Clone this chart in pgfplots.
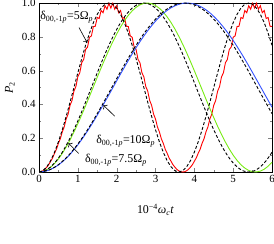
\documentclass[border=0pt]{standalone}
\usepackage{fontspec}
\setmainfont{Liberation Serif}
\usepackage{pgfplots}
\pgfplotsset{compat=1.18}
\usetikzlibrary{arrows.meta}
\definecolor{cred}{RGB}{255,0,0}
\definecolor{cgreen}{RGB}{120,235,20}
\definecolor{cblue}{RGB}{50,80,255}
\begin{document}
\begin{tikzpicture}
\useasboundingbox (-39bp,-72bp) rectangle (235bp,172bp);
\begin{axis}[
  at={(0,0)}, anchor=south west, scale only axis,
  width=233bp, height=169bp,
  xmin=0, xmax=6, ymin=0, ymax=1,
  xtick={0,1,2,3,4,5,6}, ytick={0,0.2,0.4,0.6,0.8,1},
  minor x tick num=1, minor y tick num=1,
  tick align=inside, major tick length=4bp, minor tick length=2bp,
  /pgf/number format/assume math mode=true,
  ticklabel style={font=\fontsize{11}{12}\selectfont},
  yticklabel style={/pgf/number format/.cd,fixed,fixed zerofill,precision=1},
  xlabel={10\textsuperscript{−4}\textit{ω}\textsubscript{\textit{c}}\textit{t}},
  label style={font=\fontsize{12}{13}\selectfont},
  xlabel style={at={(axis description cs:0.5,-0.225)}, anchor=center},
  every axis plot/.append style={line width=0.9bp},
]
% red, delta = 5 Omega_p (with ripple)
\addplot[cred, no marks] coordinates {
(0,0) (0.05,0.0017) (0.10,0.0072) (0.15,0.0156) (0.20,0.0286) (0.25,0.0431) (0.30,0.0635) (0.35,0.0831)
(0.40,0.1110) (0.45,0.1349) (0.50,0.1698) (0.55,0.1967) (0.60,0.2378) (0.65,0.2667) (0.70,0.3136) (0.75,0.3430)
(0.80,0.3947) (0.85,0.4234) (0.90,0.4788) (0.95,0.5056) (1.00,0.5635) (1.05,0.5871) (1.10,0.6464) (1.15,0.6658)
(1.20,0.7251) (1.25,0.7393) (1.30,0.7972) (1.35,0.8053) (1.40,0.8609) (1.45,0.8623) (1.50,0.9143) (1.55,0.9084)
(1.60,0.9556) (1.65,0.9423) (1.70,0.9839) (1.75,0.9630) (1.80,0.9982) (1.85,0.9700) (1.90,0.9982) (1.95,0.9630)
(2.00,0.9839) (2.05,0.9423) (2.10,0.9556) (2.15,0.9084) (2.20,0.9143) (2.25,0.8623) (2.30,0.8609) (2.35,0.8053)
(2.40,0.7972) (2.45,0.7393) (2.50,0.7251) (2.55,0.6658) (2.60,0.6464) (2.65,0.5871) (2.70,0.5635) (2.75,0.5056)
(2.80,0.4788) (2.85,0.4234) (2.90,0.3947) (2.95,0.3430) (3.00,0.3136) (3.05,0.2667) (3.10,0.2378) (3.15,0.1967)
(3.20,0.1698) (3.25,0.1349) (3.30,0.1110) (3.35,0.0831) (3.40,0.0635) (3.45,0.0431) (3.50,0.0286) (3.55,0.0156)
(3.60,0.0072) (3.65,0.0017) (3.70,0) (3.75,0.0017) (3.80,0.0072) (3.85,0.0156) (3.90,0.0286) (3.95,0.0431)
(4.00,0.0635) (4.05,0.0831) (4.10,0.1110) (4.15,0.1349) (4.20,0.1698) (4.25,0.1967) (4.30,0.2378) (4.35,0.2667)
(4.40,0.3136) (4.45,0.3430) (4.50,0.3947) (4.55,0.4234) (4.60,0.4788) (4.65,0.5056) (4.70,0.5635) (4.75,0.5871)
(4.80,0.6464) (4.85,0.6658) (4.90,0.7251) (4.95,0.7393) (5.00,0.7972) (5.05,0.8053) (5.10,0.8609) (5.15,0.8623)
(5.20,0.9143) (5.25,0.9084) (5.30,0.9556) (5.35,0.9423) (5.40,0.9839) (5.45,0.9630) (5.50,0.9982) (5.55,0.9700)
(5.60,0.9982) (5.65,0.9630) (5.70,0.9839) (5.75,0.9423) (5.80,0.9556) (5.85,0.9084) (5.90,0.9143) (5.95,0.8623)
(6.00,0.8609)
};
% green, delta = 7.5 Omega_p
\addplot[cgreen, no marks] coordinates {
(0,0) (0.1,0.0032) (0.2,0.0127) (0.3,0.0284) (0.4,0.0500) (0.5,0.0774) (0.6,0.1103) (0.7,0.1479) (0.8,0.1901)
(0.9,0.2363) (1.0,0.2858) (1.1,0.3380) (1.2,0.3923) (1.3,0.4479) (1.4,0.5042) (1.5,0.5605) (1.6,0.6160)
(1.7,0.6700) (1.8,0.7218) (1.9,0.7708) (2.0,0.8165) (2.1,0.8580) (2.2,0.8951) (2.3,0.9270) (2.4,0.9536)
(2.5,0.9744) (2.6,0.9892) (2.7,0.9977) (2.8,0.9999) (2.9,0.9958) (3.0,0.9854) (3.1,0.9688) (3.2,0.9462)
(3.3,0.9180) (3.4,0.8844) (3.5,0.8459) (3.6,0.8031) (3.7,0.7565) (3.8,0.7066) (3.9,0.6540) (4.0,0.5994)
(4.1,0.5437) (4.2,0.4873) (4.3,0.4311) (4.4,0.3758) (4.5,0.3221) (4.6,0.2706) (4.7,0.2221) (4.8,0.1771)
(4.9,0.1361) (5.0,0.0998) (5.1,0.0686) (5.2,0.0430) (5.3,0.0230) (5.4,0.0092) (5.5,0.0016) (5.6,0.0003)
(5.7,0.0054) (5.8,0.0167) (5.9,0.0342) (6.0,0.0577)
};
% blue, delta = 10 Omega_p
\addplot[cblue, no marks, smooth] coordinates {
(0,0) (0.2,0.0068) (0.4,0.0270) (0.6,0.0600) (0.8,0.1049) (1.0,0.1606) (1.2,0.2254) (1.4,0.2978)
(1.6,0.3756) (1.8,0.4568) (2.0,0.5391) (2.2,0.6204) (2.4,0.6985) (2.6,0.7711) (2.8,0.8363) (3.0,0.8926)
(3.2,0.9381) (3.4,0.9717) (3.6,0.9925) (3.8,1.0000) (4.0,0.9939) (4.2,0.9744) (4.4,0.9420) (4.6,0.8974)
(4.8,0.8423) (5.0,0.7780) (5.2,0.7060) (5.4,0.6284) (5.6,0.5473) (5.8,0.4650) (6.0,0.3836)
};
% dashed reference curves
\addplot[black, no marks, dash pattern=on 3bp off 2bp] coordinates {
(0,0) (0.1,0.0076) (0.2,0.0302) (0.3,0.0670) (0.4,0.1170) (0.5,0.1786) (0.6,0.25) (0.7,0.3290) (0.8,0.4132)
(0.9,0.5) (1.0,0.5868) (1.1,0.6710) (1.2,0.75) (1.3,0.8214) (1.4,0.8830) (1.5,0.9330) (1.6,0.9698)
(1.7,0.9924) (1.8,1) (1.9,0.9924) (2.0,0.9698) (2.1,0.9330) (2.2,0.8830) (2.3,0.8214) (2.4,0.75)
(2.5,0.6710) (2.6,0.5868) (2.7,0.5) (2.8,0.4132) (2.9,0.3290) (3.0,0.25) (3.1,0.1786) (3.2,0.1170)
(3.3,0.0670) (3.4,0.0302) (3.5,0.0076) (3.6,0) (3.7,0.0076) (3.8,0.0302) (3.9,0.0670) (4.0,0.1170)
(4.1,0.1786) (4.2,0.25) (4.3,0.3290) (4.4,0.4132) (4.5,0.5) (4.6,0.5868) (4.7,0.6710) (4.8,0.75)
(4.9,0.8214) (5.0,0.8830) (5.1,0.9330) (5.2,0.9698) (5.3,0.9924) (5.4,1) (5.5,0.9924) (5.6,0.9698)
(5.7,0.9330) (5.8,0.8830) (5.9,0.8214) (6.0,0.75)
};
\addplot[black, no marks, smooth, dash pattern=on 3bp off 2bp] coordinates {
(0,0) (0.15,0.0076) (0.30,0.0302) (0.45,0.0670) (0.60,0.1170) (0.75,0.1786) (0.90,0.25) (1.05,0.3290)
(1.20,0.4132) (1.35,0.5) (1.50,0.5868) (1.65,0.6710) (1.80,0.75) (1.95,0.8214) (2.10,0.8830) (2.25,0.9330)
(2.40,0.9698) (2.55,0.9924) (2.70,1) (2.85,0.9924) (3.00,0.9698) (3.15,0.9330) (3.30,0.8830) (3.45,0.8214)
(3.60,0.75) (3.75,0.6710) (3.90,0.5868) (4.05,0.5) (4.20,0.4132) (4.35,0.3290) (4.50,0.25) (4.65,0.1786)
(4.80,0.1170) (4.95,0.0670) (5.10,0.0302) (5.25,0.0076) (5.40,0) (5.55,0.0076) (5.70,0.0302) (5.85,0.0670)
(6.00,0.1170)
};
\addplot[black, no marks, smooth, dash pattern=on 3bp off 2bp] coordinates {
(0,0) (0.25,0.0109) (0.50,0.0432) (0.75,0.0955) (1.00,0.1654) (1.25,0.25) (1.50,0.3455) (1.75,0.4477)
(2.00,0.5523) (2.25,0.6545) (2.50,0.75) (2.75,0.8346) (3.00,0.9045) (3.25,0.9568) (3.50,0.9891) (3.75,1)
(4.00,0.9891) (4.25,0.9568) (4.50,0.9045) (4.75,0.8346) (5.00,0.75) (5.25,0.6545) (5.50,0.5523) (5.75,0.4477)
(6.00,0.3455)
};
% annotations
\node[anchor=base west, font=\fontsize{12}{13}\selectfont, inner sep=0pt] at (axis cs:0.03,0.90)
  {δ\textsubscript{00,-1\textit{p}}=5Ω\textsubscript{\textit{p}}};
\node[anchor=base west, font=\fontsize{12}{13}\selectfont, inner sep=0pt] at (axis cs:1.47,0.17)
  {δ\textsubscript{00,-1\textit{p}}=10Ω\textsubscript{\textit{p}}};
\node[anchor=base west, font=\fontsize{12}{13}\selectfont, inner sep=0pt] at (axis cs:1.18,0.055)
  {δ\textsubscript{00,-1\textit{p}}=7.5Ω\textsubscript{\textit{p}}};
\draw[-{To[length=3pt]}, line width=0.6bp] (axis cs:1.03,0.855) -- (axis cs:1.24,0.765);
\draw[-{To[length=3pt]}, line width=0.6bp] (axis cs:1.95,0.33) -- (axis cs:1.66,0.395);
\draw[-{To[length=3pt]}, line width=0.6bp] (axis cs:1.02,0.11) -- (axis cs:0.76,0.17);
\coordinate (ylab) at (axis description cs:-0.125,0.5);
\end{axis}
\node[rotate=90, anchor=center, font=\fontsize{12}{13}\selectfont] at (ylab) {\textit{P}\textsubscript{2}};
\end{tikzpicture}
\end{document}
